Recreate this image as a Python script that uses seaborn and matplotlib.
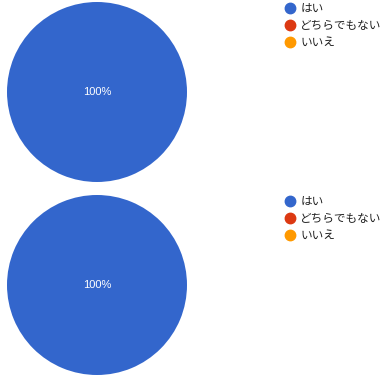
import matplotlib
matplotlib.use("Agg")
import matplotlib.pyplot as plt
from matplotlib.lines import Line2D
import seaborn as sns

sns.set_theme(style="white")
plt.rcParams['font.family'] = ['Noto Sans CJK JP', 'DejaVu Sans']

categories = ["はい", "どちらでもない", "いいえ"]
pie1_values = [100, 0, 0]
pie2_values = [100, 0, 0]
colors = ["#3366cc", "#dc3912", "#ff9900"]

W, H = 385, 378
fig = plt.figure(figsize=(W / 100, H / 100), dpi=100)

def px_axes(x, y, w, h):
    return fig.add_axes([x / W, 1 - (y + h) / H, w / W, h / H])

def fmt(p):
    return f"{p:.0f}%" if p > 0.5 else ""

for values, top in [(pie1_values, 2), (pie2_values, 195)]:
    ax = px_axes(7, top, 180, 180)
    wedges, texts, autotexts = ax.pie(values, colors=colors, startangle=90,
                                      counterclock=False, autopct=fmt,
                                      pctdistance=0.0, radius=1.0,
                                      wedgeprops=dict(linewidth=0))
    for t in autotexts:
        t.set_color("white")
        t.set_fontsize(8)
        t.set_family(["Liberation Sans", "DejaVu Sans"])
    ax.set_xlim(-1, 1)
    ax.set_ylim(-1, 1)
    ax.set_aspect("equal")
    ax.axis("off")

    handles = [Line2D([], [], marker="o", linestyle="none", markersize=7.5,
                      markerfacecolor=c, markeredgecolor=c) for c in colors]
    fig.legend(handles, categories, loc="upper left",
               bbox_to_anchor=(273 / W, 1 - (top - 8) / H),
               frameon=False, fontsize=8.4, handletextpad=0.15,
               labelspacing=0.32, handlelength=1.5, labelcolor="#222222",
               borderpad=0.2)

fig.savefig("out.png", dpi=100)
